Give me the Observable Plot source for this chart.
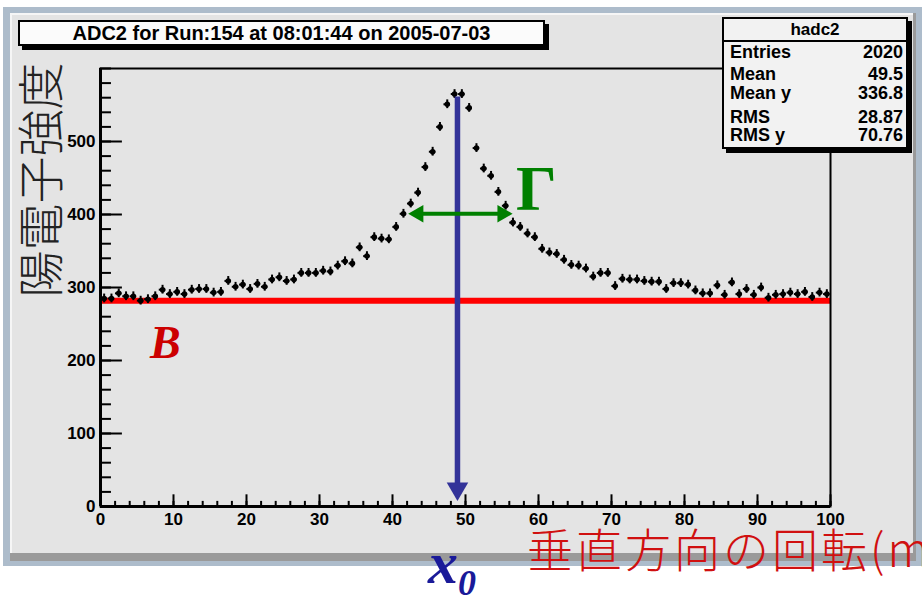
<!DOCTYPE html>
<html><head><meta charset="utf-8">
<script src="https://cdn.jsdelivr.net/npm/d3@7"></script>
<script src="https://cdn.jsdelivr.net/npm/@observablehq/plot@0.6"></script>
<style>
html,body{margin:0;padding:0;background:#fff;}
#root{position:relative;width:922px;height:602px;overflow:hidden;font-family:"Liberation Sans",Arial,sans-serif;}
.abs{position:absolute;}
#chart{position:absolute;left:0;top:0;}
.stat{position:absolute;left:6px;right:3px;font-weight:bold;font-size:18px;line-height:20px;display:flex;justify-content:space-between;color:#000;}
</style></head><body><div id="root">
<div class="abs" style="left:3px;top:7px;width:919px;height:559px;background:#adbccb"></div>
<div class="abs" style="left:10px;top:13px;width:906px;height:548px;background:#9a9a9a"></div>
<div class="abs" style="left:10px;top:13px;width:903px;height:540px;background:#e4e4e4;border-top:2px solid #f6f6f6;border-left:2px solid #f6f6f6;box-sizing:border-box"></div>
<div id="chart"></div>
<div class="abs" id="title" style="left:18px;top:20px;width:527px;height:26px;background:#fbfbfb;border:2px solid #000;box-sizing:border-box;box-shadow:4px 4px 0 #000;text-align:center;font-size:20px;font-weight:bold;line-height:22px;color:#000"></div>
<div class="abs" id="stats" style="left:722px;top:17px;width:186px;height:132px;background:#f2f2f2;border:2px solid #000;box-sizing:border-box;box-shadow:4px 4px 0 #000"></div>
<div class="abs" id="ylab" style="left:-82px;top:155px;width:240px;height:50px;line-height:50px;text-align:center;transform:rotate(-90deg);font-family:'Noto Sans CJK JP',sans-serif;font-weight:300;font-size:47px;color:#222"></div>
<div class="abs" id="xlab" style="left:527px;top:529px;white-space:nowrap;line-height:36px;font-family:'Noto Sans CJK JP',sans-serif;font-weight:300;font-size:46px;letter-spacing:3px;color:#d01010"></div>
<div class="abs" id="blab" style="left:150px;top:318px;font-family:'Liberation Serif',serif;font-weight:bold;font-style:italic;font-size:46px;line-height:50px;color:#cc0000"></div>
<div class="abs" id="glab" style="left:516px;top:156px;font-family:'Liberation Serif',serif;font-weight:bold;font-size:64px;line-height:66px;color:#008000"></div>
<div class="abs" id="x0lab" style="left:428px;top:538px;font-family:'Liberation Serif',serif;font-weight:bold;font-style:italic;font-size:60px;line-height:50px;color:#1a1a99;white-space:nowrap"></div>
</div>
<script>
// ---- data ----
const title = "ADC2 for Run:154 at 08:01:44 on 2005-07-03";
const statsName = "hadc2";
const statsLabels = ["Entries", "Mean", "Mean y", "RMS", "RMS y"];
const statsValues = ["2020", "49.5", "336.8", "28.87", "70.76"];
const yTitle = "陽電子強度";
const xTitle = "垂直方向の回転(m";
const binCenters = d3.range(0.5, 100, 1);
const counts = [
  285,285,292,288,288,282,284,288,297,291,
  294,291,297,298,298,293,294,309,301,304,
  298,305,301,311,314,309,311,320,320,320,
  323,322,330,336,333,355,343,369,367,366,
  383,401,415,430,465,486,520,551,565,565,
  546,491,463,453,431,412,389,383,374,369,
  353,348,346,338,331,330,326,315,320,320,
  302,312,311,311,309,308,308,298,306,306,
  304,296,292,292,303,290,307,291,298,290,
  300,286,290,291,293,291,294,287,293,291
];
const errBar = 6;
const yTicks = [0, 100, 200, 300, 400, 500];
const xTicks = [0, 10, 20, 30, 40, 50, 60, 70, 80, 90, 100];
const yMinor = d3.range(0, 601, 20);
const xMinor = d3.range(0, 101, 2);
const baselineB = 282;          // red line "B"
const peakX0 = 48.9;            // blue arrow x0
const x0Top = 561, x0Bottom = 8;
const gammaY = 401, gammaLeft = 42.3, gammaRight = 56.3;

const data = counts.map((v, i) => ({x: binCenters[i], y: v}));

const chart = Plot.plot({
  width: 922, height: 602,
  marginLeft: 100, marginRight: 92, marginTop: 68, marginBottom: 96,
  x: {domain: [0, 100]},
  y: {domain: [0, 600]},
  style: {background: "transparent", fontFamily: "'Liberation Sans', Arial, sans-serif", overflow: "visible"},
  marks: [
    Plot.ruleY(yMinor, {x1: 0, x2: 1.5, stroke: "#000", strokeWidth: 2}),
    Plot.ruleY(yTicks, {x1: 0, x2: 3.0, stroke: "#000", strokeWidth: 2}),
    Plot.ruleX(xMinor, {y1: 0, y2: 7, stroke: "#000", strokeWidth: 2}),
    Plot.ruleX(xTicks, {y1: 0, y2: 16, stroke: "#000", strokeWidth: 2}),
    Plot.ruleY([baselineB], {x1: 0, x2: 100, stroke: "#ff0000", strokeWidth: 6}),
    Plot.ruleX(data, {x: "x", y1: d => d.y - errBar, y2: d => d.y + errBar, stroke: "#000", strokeWidth: 2}),
    Plot.ruleY(data, {y: "y", x1: d => d.x - 0.45, x2: d => d.x + 0.45, stroke: "#000", strokeWidth: 2}),
    Plot.dot(data, {x: "x", y: "y", r: 2.8, fill: "#000"}),
    Plot.ruleX([peakX0], {y1: x0Top, y2: x0Bottom + 20, stroke: "#333399", strokeWidth: 5.5}),
    Plot.dot([peakX0], {x: d => d, y: x0Bottom, dy: -12, symbol: "triangle", r: 8, rotate: 180, fill: "#333399"}),
    Plot.ruleY([gammaY], {x1: gammaLeft + 1.5, x2: gammaRight - 1.5, stroke: "#008000", strokeWidth: 4}),
    Plot.dot([gammaLeft], {x: d => d, y: gammaY, dx: 9, symbol: "triangle", r: 6.5, rotate: -90, fill: "#008000"}),
    Plot.dot([gammaRight], {x: d => d, y: gammaY, dx: -9, symbol: "triangle", r: 6.5, rotate: 90, fill: "#008000"}),
    Plot.frame({stroke: "#000", strokeWidth: 2}),
    Plot.ruleX([0], {stroke: "#000", strokeWidth: 3}),
    Plot.ruleY([0], {stroke: "#000", strokeWidth: 3}),
    Plot.axisY({ticks: yTicks, tickSize: 0, tickPadding: 5, label: null, fontWeight: "bold", fontSize: 17, color: "#000"}),
    Plot.axisX({ticks: xTicks, tickSize: 0, tickPadding: 6, label: null, fontWeight: "bold", fontSize: 17, color: "#000"})
  ]
});
document.getElementById("chart").appendChild(chart);

// annotations / text
document.getElementById("title").textContent = title;
const st = document.getElementById("stats");
const head = document.createElement("div");
head.style.cssText = "position:absolute;left:0;right:0;top:0;height:21px;border-bottom:2px solid #000;text-align:center;font-weight:bold;font-size:17px;line-height:21px";
head.textContent = statsName;
st.appendChild(head);
const rowTops = [23, 45, 64, 88, 106];
statsLabels.forEach((l, i) => {
  const r = document.createElement("div");
  r.className = "stat";
  r.style.top = rowTops[i] + "px";
  r.innerHTML = `<span>${l}</span><span>${statsValues[i]}</span>`;
  st.appendChild(r);
});
document.getElementById("ylab").textContent = yTitle;
document.getElementById("xlab").textContent = xTitle;
document.getElementById("blab").textContent = "B";
document.getElementById("glab").textContent = "Γ";
document.getElementById("x0lab").innerHTML = 'x<span style="font-size:36px;line-height:36px;position:relative;top:12px">0</span>';
</script>
</body></html>
